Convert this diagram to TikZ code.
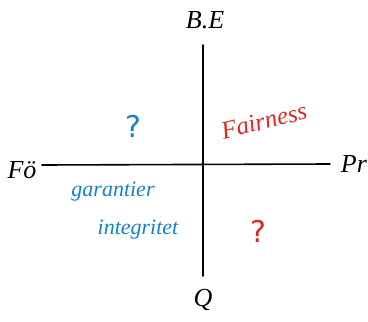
\documentclass[tikz,border=0pt]{standalone}
\usepackage{fontspec}
\setmainfont{DejaVu Sans}
\newfontfamily\handfont{Liberation Serif}
\definecolor{qblue}{RGB}{20,130,200}
\definecolor{qred}{RGB}{220,40,30}
\begin{document}
\begin{tikzpicture}[x=1pt,y=-1pt,
  axis/.style={draw=black,line width=1.6pt,line cap=round},
  lbl/.style={font=\handfont\itshape\fontsize{26}{28}\selectfont,text=black},
  qmark/.style={font=\fontsize{30}{32}\selectfont},
  hand/.style={font=\handfont\itshape\fontsize{22}{24}\selectfont,text=qblue}]
\useasboundingbox (0,0) rectangle (368,322);
\coordinate (vt) at (203,45);
\coordinate (vb) at (203,276);
\coordinate (hl) at (42,165);
\coordinate (hr) at (330,164);
\draw[axis] (vt) -- (vb);
\draw[axis] (hl) -- (hr);
\node[lbl] (be) at (205,20) {B.E};
\node[lbl] (q) at (203,300) {Q};
\node[lbl] (fo) at (22,170) {Fö};
\node[lbl] (pr) at (354,164) {Pr};
\node[qmark,text=qblue] (q1) at (133,126) {?};
\node[qmark,text=qred] (q2) at (258,231) {?};
\node[font=\handfont\itshape\fontsize{25}{27}\selectfont,text=qred,rotate=14] (fair) at (264,121) {Fairness};
\node[hand] (g1) at (113,192) {garantier};
\node[hand] (g2) at (138,230) {integritet};
\end{tikzpicture}
\end{document}
